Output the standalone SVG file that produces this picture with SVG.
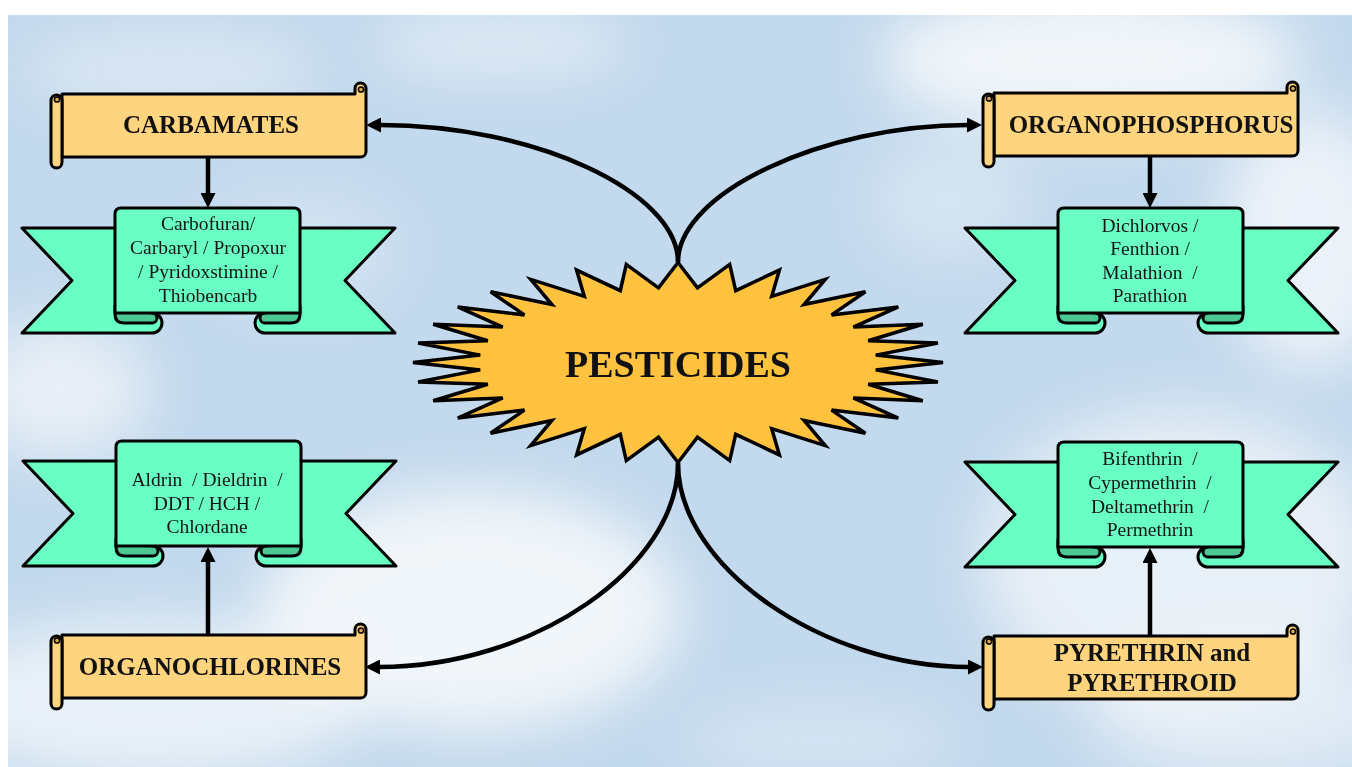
<svg xmlns="http://www.w3.org/2000/svg" width="1352" height="767" viewBox="0 0 1352 767">
<defs>
<style>
.scroll{fill:#FFD47F;stroke:#000;stroke-width:3;stroke-linejoin:round}
.curl{fill:#D9A84F;stroke:#000;stroke-width:1.5}
.rib{fill:#69FFC4;stroke:#000;stroke-width:3;stroke-linejoin:round}
.fold{fill:#4CC895;stroke:#000;stroke-width:3;stroke-linejoin:round}
.star{fill:#FFC23F;stroke:#000;stroke-width:3.5;stroke-linejoin:miter}
.title{font-family:"Liberation Serif","Times New Roman",serif;font-weight:bold;font-size:25px;fill:#111;text-anchor:middle}
.main{font-family:"Liberation Serif","Times New Roman",serif;font-weight:bold;font-size:38px;fill:#111;text-anchor:middle}
.list{font-family:"Liberation Serif","Times New Roman",serif;font-size:19.5px;fill:#141414;text-anchor:middle}
.conn{fill:none;stroke:#000;stroke-width:4.5}
</style>
<marker id="arrow" markerUnits="userSpaceOnUse" markerWidth="15" markerHeight="15" viewBox="0 0 15 15" refX="1" refY="7.5" orient="auto">
<path d="M0,0 L15,7.5 L0,15 Z" fill="#000"/>
</marker>
<filter id="blur" x="-30%" y="-30%" width="160%" height="160%"><feGaussianBlur stdDeviation="28"/></filter>
<g id="scrollShape">
<path class="scroll" d="M11,11 H304 V5.5 A5.5,5.5 0 0 1 315,5.5 V68.5 A5.5,5.5 0 0 1 309.5,74 H11 Z"/>
<circle class="curl" cx="310" cy="6.5" r="2.6"/>
<path class="scroll" d="M0,17.5 A5.5,5.5 0 0 1 11,17.5 V79.5 A5.5,5.5 0 0 1 0,79.5 Z"/>
<circle class="curl" cx="6" cy="16.5" r="2.6"/>
</g>
<g id="ribbonShape">
<path class="rib" d="M0,20 H130 V105 A10,10 0 0 1 130,125 H0 L50,72.5 Z"/>
<path class="rib" d="M373,20 H243 V105 A10,10 0 0 0 243,125 H373 L323,72.5 Z"/>
<path class="fold" d="M93,98 V106 Q93,115 102,115 H130 A5,5 0 0 0 130,105 Z"/>
<path class="fold" d="M278,98 V106 Q278,115 269,115 H243 A5,5 0 0 1 243,105 Z"/>
<path class="rib" d="M93,6 Q93,0 99,0 H272 Q278,0 278,6 V105 H93 Z"/>
</g>
</defs>

<g id="background">
<rect x="0" y="0" width="1352" height="767" fill="#FFFFFF"/>
<rect x="8" y="15" width="1344" height="752" fill="#C3D9ED"/>
<g filter="url(#blur)" fill="#F6F8FB">
<ellipse cx="1090" cy="60" rx="210" ry="70" opacity="0.9"/>
<ellipse cx="1310" cy="240" rx="90" ry="130" opacity="0.8"/>
<ellipse cx="500" cy="45" rx="130" ry="30" opacity="0.6"/>
<ellipse cx="170" cy="70" rx="150" ry="40" opacity="0.45"/>
<ellipse cx="60" cy="390" rx="90" ry="70" opacity="0.7"/>
<ellipse cx="470" cy="610" rx="210" ry="120" opacity="0.9"/>
<ellipse cx="150" cy="700" rx="220" ry="80" opacity="0.75"/>
<ellipse cx="1180" cy="560" rx="200" ry="150" opacity="0.7"/>
<ellipse cx="1250" cy="710" rx="160" ry="70" opacity="0.6"/>
<ellipse cx="300" cy="250" rx="100" ry="60" opacity="0.3"/>
<ellipse cx="950" cy="200" rx="80" ry="60" opacity="0.35"/>
<ellipse cx="820" cy="740" rx="140" ry="35" opacity="0.35"/>
</g>
<rect x="0" y="0" width="1352" height="15" fill="#FFFFFF"/>
<rect x="0" y="0" width="8" height="767" fill="#FFFFFF"/>
</g>

<g id="connectors">
<path class="conn" d="M678,262 C678,192 535,125 380,125" marker-end="url(#arrow)"/>
<path class="conn" d="M678,262 C678,192 825,125 968,125" marker-end="url(#arrow)"/>
<path class="conn" d="M678,463 C678,567 534,667 379,667" marker-end="url(#arrow)"/>
<path class="conn" d="M678,463 C678,567 823,667 969,667" marker-end="url(#arrow)"/>
<path class="conn" d="M208,157 V194" marker-end="url(#arrow)"/>
<path class="conn" d="M1150,157 V194" marker-end="url(#arrow)"/>
<path class="conn" d="M208,635 V561" marker-end="url(#arrow)"/>
<path class="conn" d="M1150,635 V562" marker-end="url(#arrow)"/>
</g>

<g id="node-pesticides">
<polygon class="star" points="678,262.5 697.5,287.9 729.7,264.4 735.7,290.7 779.4,270.1 771.7,296.4 825.2,279.4 804.1,304.5 865.4,291.8 831.6,314.9 898.3,306.9 853.3,327.1 922.8,324.2 868.2,340.7 937.9,343 875.8,355.1 943,362.5 875.8,369.9 937.9,382 868.2,384.3 922.8,400.8 853.3,397.9 898.3,418.1 831.6,410.1 865.4,433.2 804.1,420.5 825.2,445.6 771.7,428.6 779.4,454.9 735.7,434.3 729.7,460.6 697.5,437.1 678,462.5 658.5,437.1 626.3,460.6 620.3,434.3 576.6,454.9 584.3,428.6 530.8,445.6 551.9,420.5 490.6,433.2 524.4,410.1 457.7,418.1 502.7,397.9 433.2,400.8 487.8,384.3 418.1,382 480.2,369.9 413,362.5 480.2,355.1 418.1,343 487.8,340.7 433.2,324.2 502.7,327.1 457.7,306.9 524.4,314.9 490.6,291.8 551.9,304.5 530.8,279.4 584.3,296.4 576.6,270.1 620.3,290.7 626.3,264.4 658.5,287.9"/>
<text class="main" x="678" y="377">PESTICIDES</text>
</g>

<g id="node-carbamates">
<use href="#scrollShape" transform="translate(51,83)"/>
<text class="title" x="211" y="133">CARBAMATES</text>
</g>

<g id="node-organophosphorus">
<use href="#scrollShape" transform="translate(983,82)"/>
<text class="title" x="1151" y="133">ORGANOPHOSPHORUS</text>
</g>

<g id="node-organochlorines">
<use href="#scrollShape" transform="translate(51,624)"/>
<text class="title" x="210" y="675">ORGANOCHLORINES</text>
</g>

<g id="node-pyrethrin">
<use href="#scrollShape" transform="translate(983,625)"/>
<text class="title" x="1152" y="661">PYRETHRIN and</text>
<text class="title" x="1152" y="691">PYRETHROID</text>
</g>

<g id="node-carbamates-list">
<use href="#ribbonShape" transform="translate(22,208)"/>
<text class="list" x="208" y="230">Carbofuran/</text>
<text class="list" x="208" y="254">Carbaryl / Propoxur</text>
<text class="list" x="208" y="278">/ Pyridoxstimine /</text>
<text class="list" x="208" y="302">Thiobencarb</text>
</g>

<g id="node-organophosphorus-list">
<use href="#ribbonShape" transform="translate(965,208)"/>
<text class="list" x="1150" y="232">Dichlorvos /</text>
<text class="list" x="1150" y="255">Fenthion /</text>
<text class="list" x="1150" y="279" xml:space="preserve">Malathion  /</text>
<text class="list" x="1150" y="302">Parathion</text>
</g>

<g id="node-organochlorines-list">
<use href="#ribbonShape" transform="translate(23,441)"/>
<text class="list" x="207" y="486" xml:space="preserve">Aldrin  / Dieldrin  /</text>
<text class="list" x="207" y="510">DDT / HCH /</text>
<text class="list" x="207" y="533">Chlordane</text>
</g>

<g id="node-pyrethrin-list">
<use href="#ribbonShape" transform="translate(965,442)"/>
<text class="list" x="1150" y="465" xml:space="preserve">Bifenthrin  /</text>
<text class="list" x="1150" y="489" xml:space="preserve">Cypermethrin  /</text>
<text class="list" x="1150" y="513" xml:space="preserve">Deltamethrin  /</text>
<text class="list" x="1150" y="536">Permethrin</text>
</g>
</svg>
